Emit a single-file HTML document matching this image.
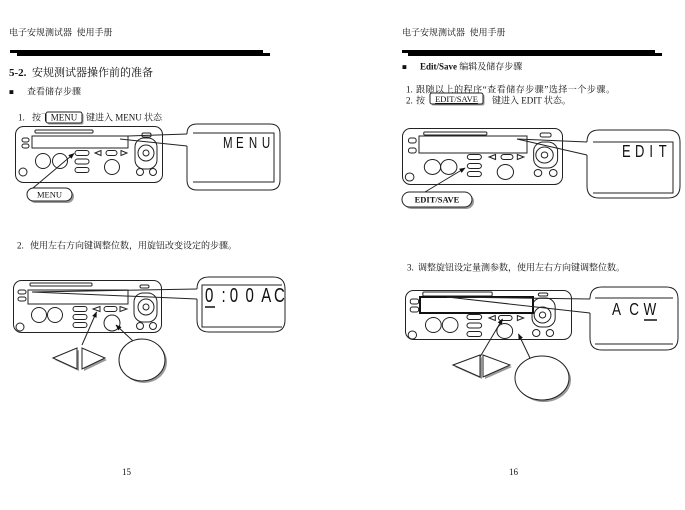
<!DOCTYPE html>
<html><head><meta charset="utf-8">
<style>
html,body{margin:0;padding:0;background:#fff;}
svg{display:block;}
.t{font-family:"Liberation Serif","Noto Serif CJK SC",serif;font-size:9px;fill:#111;}
.d{font-family:"Liberation Sans",sans-serif;fill:#111;}
.dev *{fill:#fff;stroke:#222;stroke-width:1;vector-effect:non-scaling-stroke;}
.ln{stroke:#222;stroke-width:1;fill:none;}
</style></head>
<body>
<svg width="685" height="510" viewBox="0 0 685 510" xmlns="http://www.w3.org/2000/svg">
<defs>
<marker id="ah" viewBox="0 0 10 10" refX="9" refY="5" markerWidth="6" markerHeight="6" orient="auto">
<path d="M0,1 L10,5 L0,9 z" fill="#111"/>
</marker>
</defs>
<rect width="685" height="510" fill="#fff"/>

<!-- ===== PAGE 1 ===== -->
<text class="t" x="9" y="35.5">电子安规测试器&#160;&#160;使用手册</text>
<rect x="10" y="50" width="253" height="3" fill="#000"/>
<rect x="17" y="53" width="253" height="3" fill="#000"/>

<text class="t" x="9" y="76" style="font-size:11px"><tspan font-weight="bold">5-2.</tspan><tspan x="32">安规测试器操作前的准备</tspan></text>
<text class="t" x="9" y="94.5" style="font-size:8px">■</text>
<text class="t" x="27" y="94.5">查看储存步骤</text>

<text class="t" x="18" y="120.5">1.</text>
<text class="t" x="32" y="120.5">按下</text>
<rect x="47.5" y="113.5" width="36" height="11" rx="2" fill="#999"/>
<rect x="46" y="112" width="36" height="11" rx="2" fill="#fff" stroke="#222" stroke-width="1"/>
<text class="t" x="64" y="120.5" text-anchor="middle">MENU</text>
<text class="t" x="86" y="120.5">键进入 MENU 状态</text>

<!-- device 1 -->
<rect x="15.5" y="126.5" width="147" height="56" rx="8" fill="#fff" stroke="#222"/>
<g class="dev" transform="translate(15,126)">
<rect x="20" y="4" width="58" height="3" rx="1"/>
<rect x="7" y="12" width="7" height="4" rx="2"/>
<rect x="7" y="18" width="7" height="4" rx="2"/>
<rect x="127" y="7" width="9" height="4" rx="1.5"/>
<rect x="120" y="12" width="22" height="31" rx="9"/>
<circle cx="131" cy="27" r="8"/>
<circle cx="131" cy="27" r="3"/>
<circle cx="125" cy="46" r="3.5"/>
<circle cx="138" cy="46" r="3.5"/>
<circle cx="8" cy="46" r="4"/>
<circle cx="28" cy="35" r="7.5"/>
<circle cx="45" cy="35" r="7.5"/>
<rect x="60" y="24.5" width="14" height="5" rx="2.5"/>
<rect x="60" y="33" width="14" height="5" rx="2.5"/>
<rect x="60" y="41.5" width="14" height="5" rx="2.5"/>
<polygon points="80,27 86,24.5 86,29.5"/>
<rect x="91" y="24.5" width="11" height="5" rx="2.5"/>
<polygon points="106,24.5 106,29.5 112,27"/>
<circle cx="97" cy="41" r="7.5"/>
</g>
<rect x="32" y="136" width="96" height="12" fill="#fff" stroke="#222"/>
<!-- callout 1 -->
<path class="ln" d="M187,146 L187,180 Q187,190 197,190 L270,190 Q280,190 280,180 L280,134 Q280,124 270,124 L197,124 Q187,124 187,134"/>
<line class="ln" x1="128" y1="136" x2="187" y2="134"/>
<line class="ln" x1="120" y1="139" x2="187" y2="146"/>
<polyline class="ln" points="193,133 274,133 274,182 193,182"/>
<text class="d" transform="translate(223,148) scale(0.72,1)" style="font-size:16px"><tspan x="0">M</tspan><tspan x="18">E</tspan><tspan x="36">N</tspan><tspan x="54">U</tspan></text>
<!-- MENU label -->
<rect x="29" y="190" width="45" height="13" rx="6.5" fill="#999"/>
<rect x="27" y="188" width="45" height="13" rx="6.5" fill="#fff" stroke="#222"/>
<text class="t" x="49.5" y="197.5" text-anchor="middle" style="font-size:8.5px">MENU</text>
<line class="ln" x1="33" y1="188" x2="74" y2="153.5" marker-end="url(#ah)"/>

<text class="t" x="17" y="248.5">2.</text>
<text class="t" x="30" y="248.5">使用左右方向键调整位数，用旋钮改变设定的步骤。</text>

<!-- device 2 -->
<rect x="13.5" y="280.5" width="148" height="52" rx="8" fill="#fff" stroke="#222"/>
<g class="dev" transform="translate(13,280)">
<rect x="17" y="3" width="62" height="3" rx="1"/>
<rect x="5" y="10" width="8" height="4" rx="2"/>
<rect x="5" y="17" width="8" height="4" rx="2"/>
<rect x="127" y="5" width="9" height="3" rx="1.5"/>
<rect x="121" y="13" width="23" height="29" rx="9"/>
<circle cx="133" cy="27" r="8"/>
<circle cx="133" cy="27" r="3"/>
<circle cx="127" cy="46" r="3.5"/>
<circle cx="140" cy="46" r="3.5"/>
<circle cx="7" cy="47" r="4"/>
<circle cx="26" cy="35" r="7.5"/>
<circle cx="42" cy="35" r="7.5"/>
<rect x="60" y="26.5" width="14" height="5" rx="2.5"/>
<rect x="60" y="34.5" width="14" height="5" rx="2.5"/>
<rect x="60" y="42.5" width="14" height="5" rx="2.5"/>
<polygon points="80,29 87,26.5 87,31.5"/>
<rect x="91" y="26.5" width="13" height="5" rx="2.5"/>
<polygon points="107,26.5 107,31.5 114,29"/>
<circle cx="99" cy="43" r="8"/>
</g>
<rect x="28" y="290" width="100" height="14" fill="#fff" stroke="#222"/>
<!-- callout 2 -->
<path class="ln" d="M197,299 L197,320 Q197,332 209,332 L273,332 Q285,332 285,320 L285,289 Q285,277 273,277 L209,277 Q197,277 197,289"/>
<line class="ln" x1="32" y1="292" x2="197" y2="289"/>
<line class="ln" x1="32" y1="292" x2="197" y2="299"/>
<polyline class="ln" points="282,285 202,285 202,327 282,327"/>
<text class="d" transform="translate(205,302) scale(0.75,1)" style="font-size:20px"><tspan x="0">0</tspan><tspan x="22">:</tspan><tspan x="33">0</tspan><tspan x="54">0</tspan><tspan x="75">A</tspan><tspan x="92">C</tspan></text>
<line x1="205" y1="307" x2="215" y2="307" stroke="#111" stroke-width="1.5"/>
<!-- arrows keys 2 -->
<polygon points="55,360 79,350 79,371" fill="#999"/>
<polygon points="84,350 84,371 107,360" fill="#999"/>
<polygon points="53,358 77,348 77,369" fill="#fff" stroke="#222"/>
<polygon points="82,348 82,369 105,358" fill="#fff" stroke="#222"/>
<ellipse cx="144" cy="362" rx="23" ry="21" fill="#999"/>
<ellipse cx="142" cy="360" rx="23" ry="21" fill="#fff" stroke="#222"/>
<line class="ln" x1="82" y1="345" x2="96.5" y2="312" marker-end="url(#ah)"/>
<line class="ln" x1="133" y1="341" x2="116" y2="325" marker-end="url(#ah)"/>

<text class="t" x="122" y="475">15</text>

<!-- ===== PAGE 2 ===== -->
<text class="t" x="402" y="35.5">电子安规测试器&#160;&#160;使用手册</text>
<rect x="402" y="50" width="253" height="3" fill="#000"/>
<rect x="408" y="53" width="254" height="3" fill="#000"/>

<text class="t" x="402" y="69.5" style="font-size:8px">■</text>
<text class="t" x="420" y="69.5"><tspan font-weight="bold">Edit/Save</tspan> 编辑及储存步骤</text>

<text class="t" x="406" y="92.5">1.</text>
<text class="t" x="416" y="92.5" textLength="199" lengthAdjust="spacing">跟随以上的程序“查看储存步骤”选择一个步骤。</text>
<line x1="440" y1="94" x2="465" y2="94" stroke="#555" stroke-width="0.7"/>
<text class="t" x="406" y="103.5">2.</text>
<text class="t" x="416" y="103.5">按</text>
<rect x="431.5" y="94.5" width="53" height="11" rx="2" fill="#999"/>
<rect x="430" y="93" width="53" height="11" rx="2" fill="#fff" stroke="#222"/>
<text class="t" x="456.5" y="102" text-anchor="middle" style="font-size:8.5px" text-decoration="underline">EDIT/SAVE</text>
<text class="t" x="492" y="103.5">键进入 EDIT 状态。</text>

<!-- device 3 -->
<rect x="402.5" y="128.5" width="160" height="56" rx="8" fill="#fff" stroke="#222"/>
<g class="dev" transform="translate(402,128) scale(1.088,1)">
<rect x="20" y="4" width="58" height="3" rx="1"/>
<rect x="6" y="10" width="7" height="5" rx="2"/>
<rect x="6" y="20" width="7" height="5" rx="2"/>
<rect x="127" y="5" width="10" height="4" rx="1.5"/>
<rect x="121" y="14" width="22" height="26" rx="9"/>
<circle cx="131" cy="27" r="8"/>
<circle cx="131" cy="27" r="3"/>
<circle cx="125" cy="45" r="3.5"/>
<circle cx="139" cy="45" r="3.5"/>
<circle cx="7" cy="49" r="4"/>
<circle cx="28" cy="39" r="7.5"/>
<circle cx="43" cy="39" r="7.5"/>
<rect x="60" y="26.5" width="13" height="5" rx="2.5"/>
<rect x="60" y="35.5" width="13" height="5" rx="2.5"/>
<rect x="60" y="43.5" width="13" height="5" rx="2.5"/>
<polygon points="80,29 86,26.5 86,31.5"/>
<rect x="91" y="26.5" width="11" height="5" rx="2.5"/>
<polygon points="106,26.5 106,31.5 112,29"/>
<circle cx="95" cy="44" r="7.5"/>
</g>
<rect x="419" y="136" width="108" height="17" fill="#fff" stroke="#222"/>
<!-- callout 3 -->
<path class="ln" d="M587,155 L587,186 Q587,198 599,198 L668,198 Q680,198 680,186 L680,142 Q680,130 668,130 L599,130 Q587,130 587,142"/>
<line class="ln" x1="517" y1="139" x2="587" y2="142"/>
<line class="ln" x1="517" y1="139" x2="587" y2="155"/>
<polyline class="ln" points="593,142 673,142 673,193 593,193"/>
<text class="d" transform="translate(622,157) scale(0.72,1)" style="font-size:18px"><tspan x="0">E</tspan><tspan x="18">D</tspan><tspan x="38">I</tspan><tspan x="51">T</tspan></text>
<!-- EDIT/SAVE label -->
<rect x="404" y="194" width="70" height="15" rx="7.5" fill="#999"/>
<rect x="402" y="192" width="70" height="15" rx="7.5" fill="#fff" stroke="#222"/>
<text class="t" x="437" y="202.5" text-anchor="middle" font-weight="bold" style="font-size:8.5px">EDIT/SAVE</text>
<line class="ln" x1="425" y1="192" x2="465" y2="168" marker-end="url(#ah)"/>

<text class="t" x="407" y="270.5">3.</text>
<text class="t" x="418" y="270.5">调整旋钮设定量测参数，使用左右方向键调整位数。</text>

<!-- device 4 -->
<rect x="405.5" y="290.5" width="166" height="49" rx="8" fill="#fff" stroke="#222"/>
<g class="dev" transform="translate(405,290) scale(1.05,1)">
<rect x="17" y="2" width="66" height="4" rx="1"/>
<rect x="5" y="9" width="8" height="5" rx="2"/>
<rect x="5" y="17" width="8" height="5" rx="2"/>
<rect x="127" y="3" width="9" height="3" rx="1.5"/>
<rect x="121" y="8" width="22" height="29" rx="9"/>
<circle cx="131" cy="25" r="8"/>
<circle cx="131" cy="25" r="3"/>
<circle cx="125" cy="43" r="3.5"/>
<circle cx="138" cy="43" r="3.5"/>
<circle cx="7" cy="45" r="4"/>
<circle cx="27" cy="35" r="7.5"/>
<circle cx="43" cy="35" r="7.5"/>
<rect x="59" y="24.5" width="14" height="5" rx="2.5"/>
<rect x="59" y="33" width="14" height="5" rx="2.5"/>
<rect x="59" y="41.5" width="14" height="5" rx="2.5"/>
<polygon points="80,28 86,25.5 86,30.5"/>
<rect x="89" y="25.5" width="13" height="5" rx="2.5"/>
<polygon points="107,25.5 107,30.5 113,28"/>
<circle cx="95" cy="41" r="7.5"/>
</g>
<rect x="420" y="297" width="113" height="16" fill="#fff" stroke="#111" stroke-width="2"/>
<!-- callout 4 -->
<path class="ln" d="M590,313 L590,338 Q590,350 602,350 L666,350 Q678,350 678,338 L678,299 Q678,287 666,287 L602,287 Q590,287 590,299"/>
<line class="ln" x1="447" y1="297" x2="590" y2="299"/>
<line class="ln" x1="447" y1="297" x2="590" y2="313"/>
<line class="ln" x1="595" y1="298" x2="673" y2="298"/>
<line class="ln" x1="595" y1="344" x2="673" y2="344"/>
<text class="d" transform="translate(612,315) scale(0.75,1)" style="font-size:18px"><tspan x="0">A</tspan><tspan x="23">C</tspan><tspan x="42">W</tspan></text>
<line x1="644" y1="320" x2="657" y2="320" stroke="#111" stroke-width="1.5"/>
<!-- arrows keys 4 -->
<polygon points="455,367 482,357 482,379" fill="#999"/>
<polygon points="485,357 485,379 512,367" fill="#999"/>
<polygon points="453,365 480,355 480,377" fill="#fff" stroke="#222"/>
<polygon points="483,355 483,377 510,365" fill="#fff" stroke="#222"/>
<ellipse cx="544" cy="380" rx="27" ry="22" fill="#999"/>
<ellipse cx="542" cy="378" rx="27" ry="22" fill="#fff" stroke="#222"/>
<line class="ln" x1="480" y1="357" x2="502.5" y2="319" marker-end="url(#ah)"/>
<line class="ln" x1="530" y1="358" x2="518.5" y2="334" marker-end="url(#ah)"/>

<text class="t" x="509" y="475">16</text>
</svg>
</body></html>
